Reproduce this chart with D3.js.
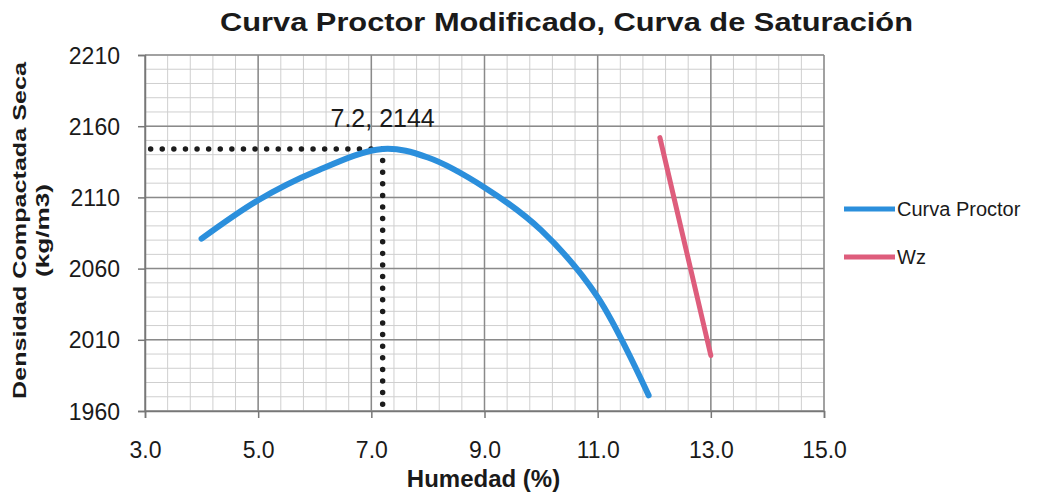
<!DOCTYPE html>
<html>
<head>
<meta charset="utf-8">
<script src="https://cdn.jsdelivr.net/npm/d3@7"></script>
<style>
  html, body { margin: 0; padding: 0; background: #fff; }
  svg { display: block; font-family: "Liberation Sans", Arial, sans-serif; }
</style>
</head>
<body>
<svg id="chart" width="1045" height="494"></svg>
<script>
// Proctor compaction curve: moisture content (%) vs dry density (kg/m3)
const humedad   = [4.0, 5.0, 6.0, 7.2, 8.0, 9.0, 10.0, 11.0, 11.9];
const densidad  = [2081, 2108, 2128, 2144, 2138, 2117, 2087, 2040, 1971];

// Saturation line (Wz)
const wzHumedad  = [12.1, 13.0];
const wzDensidad = [2152, 1999];

// Optimum point (label and dotted guides)
const optimo = [7.2, 2144];

const xTicks = [3, 5, 7, 9, 11, 13, 15];
const yTicks = [1960, 2010, 2060, 2110, 2160, 2210];

const seriesNames = ["Curva Proctor", "Wz"];
const colors = ["#2b8fdc", "#de5d7c"];

const svg = d3.select("#chart");

const x = d3.scaleLinear().domain([3, 15]).range([145, 824]);
const y = d3.scaleLinear().domain([1960, 2210]).range([411, 55]);

// Minor grid
const xMinor = d3.range(3, 15.0001, 0.4);
const yMinor = d3.range(1960, 2210.0001, 10);
const grid = svg.append("g");
grid.selectAll(".vx").data(xMinor).join("line")
  .attr("x1", d => x(d)).attr("x2", d => x(d))
  .attr("y1", y(2210)).attr("y2", y(1960))
  .attr("stroke", "#cfcfcf").attr("stroke-width", 1);
grid.selectAll(".hy").data(yMinor).join("line")
  .attr("x1", x(3)).attr("x2", x(15))
  .attr("y1", d => y(d)).attr("y2", d => y(d))
  .attr("stroke", "#cfcfcf").attr("stroke-width", 1);

// Major grid
grid.selectAll(".vX").data(xTicks).join("line")
  .attr("x1", d => x(d)).attr("x2", d => x(d))
  .attr("y1", y(2210)).attr("y2", y(1960))
  .attr("stroke", "#8a8a8a").attr("stroke-width", 1.5);
grid.selectAll(".hY").data(yTicks).join("line")
  .attr("x1", x(3)).attr("x2", x(15))
  .attr("y1", d => y(d)).attr("y2", d => y(d))
  .attr("stroke", "#8a8a8a").attr("stroke-width", 1.5);

// Axes
const xAxis = d3.axisBottom(x).tickValues(xTicks).tickFormat(d3.format(".1f"))
  .tickSize(7).tickPadding(24);
const yAxis = d3.axisLeft(y).tickValues(yTicks).tickFormat(d3.format("d"))
  .tickSize(7).tickPadding(18);

const gx = svg.append("g").attr("transform", `translate(0,${y(1960)})`).call(xAxis);
const gy = svg.append("g").attr("transform", `translate(${x(3)},0)`).call(yAxis);
[gx, gy].forEach(g => {
  g.select(".domain").attr("stroke", "#777").attr("stroke-width", 1.5);
  g.selectAll(".tick line").attr("stroke", "#777").attr("stroke-width", 1.5);
  g.selectAll(".tick text").attr("fill", "#1a1a1a")
    .style("font-size", "23px").style("font-family", "'Liberation Sans', Arial, sans-serif");
});
gy.selectAll(".tick text").attr("dy", "0.35em");

// Dotted guides to the optimum
const dotted = svg.append("g");
dotted.append("line")
  .attr("x1", x(optimo[0])).attr("x2", x(3) + 3)
  .attr("y1", y(optimo[1])).attr("y2", y(optimo[1]))
  .attr("stroke", "#1c1c1c").attr("stroke-width", 5.5)
  .attr("stroke-linecap", "round").attr("stroke-dasharray", "0 11.6");
dotted.append("line")
  .attr("x1", x(optimo[0])).attr("x2", x(optimo[0]))
  .attr("y1", y(optimo[1])).attr("y2", y(1960))
  .attr("stroke", "#1c1c1c").attr("stroke-width", 5.5)
  .attr("stroke-linecap", "round").attr("stroke-dasharray", "0 11.6");

// Series
const proctor = humedad.map((h, i) => [h, densidad[i]]);
const wz = wzHumedad.map((h, i) => [h, wzDensidad[i]]);

svg.append("path").datum(proctor)
  .attr("d", d3.line().x(d => x(d[0])).y(d => y(d[1])).curve(d3.curveCatmullRom.alpha(0.5)))
  .attr("fill", "none").attr("stroke", colors[0]).attr("stroke-width", 6)
  .attr("stroke-linecap", "round").attr("stroke-linejoin", "round");
svg.append("path").datum(wz)
  .attr("d", d3.line().x(d => x(d[0])).y(d => y(d[1])))
  .attr("fill", "none").attr("stroke", colors[1]).attr("stroke-width", 5)
  .attr("stroke-linecap", "round");

// Optimum label
svg.append("text")
  .attr("x", x(optimo[0])).attr("y", y(optimo[1]) - 22)
  .attr("text-anchor", "middle")
  .style("font-size", "25px").attr("fill", "#1a1a1a")
  .text(`${optimo[0].toFixed(1)}, ${optimo[1]}`);

// Title
svg.append("text")
  .attr("x", 220).attr("y", 31)
  .attr("textLength", 693).attr("lengthAdjust", "spacingAndGlyphs")
  .style("font-size", "25px").style("font-weight", "bold").attr("fill", "#1a1a1a")
  .text("Curva Proctor Modificado, Curva de Saturación");

// Axis titles
svg.append("text")
  .attr("x", (x(3) + x(15)) / 2 - 1).attr("y", 487)
  .attr("text-anchor", "middle")
  .style("font-size", "24px").style("font-weight", "bold").attr("fill", "#1a1a1a")
  .text("Humedad (%)");

const yTitle = svg.append("g").attr("transform", "translate(0,231) rotate(-90)");
yTitle.append("text")
  .attr("x", -168).attr("y", 26)
  .attr("textLength", 337).attr("lengthAdjust", "spacingAndGlyphs")
  .style("font-size", "18px").style("font-weight", "bold").attr("fill", "#1a1a1a")
  .text("Densidad Compactada Seca");
yTitle.append("text")
  .attr("x", -46).attr("y", 49)
  .attr("textLength", 93).attr("lengthAdjust", "spacingAndGlyphs")
  .style("font-size", "18px").style("font-weight", "bold").attr("fill", "#1a1a1a")
  .text("(kg/m3)");

// Legend
const legend = svg.append("g");
const legendY = [209, 257];
seriesNames.forEach((name, i) => {
  legend.append("line")
    .attr("x1", 844).attr("x2", 895)
    .attr("y1", legendY[i]).attr("y2", legendY[i])
    .attr("stroke", colors[i]).attr("stroke-width", 5);
  legend.append("text")
    .attr("x", 897).attr("y", legendY[i] + 7)
    .style("font-size", "20px").attr("fill", "#1a1a1a")
    .text(name);
});
</script>
</body>
</html>
